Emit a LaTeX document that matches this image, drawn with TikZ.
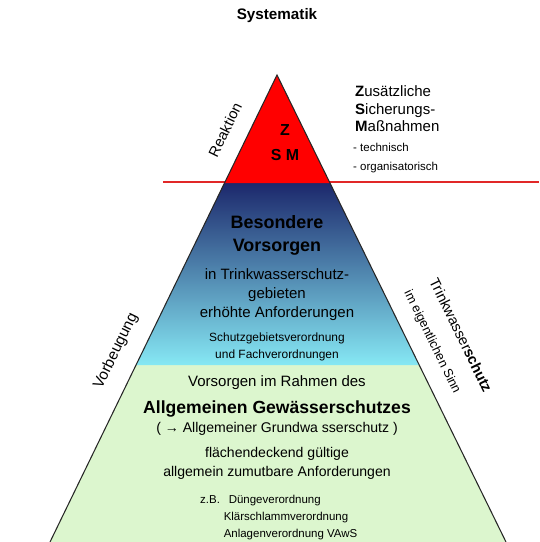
\documentclass[tikz,border=0pt]{standalone}
\usepackage{fontspec}
\setmainfont{Liberation Sans}
\usetikzlibrary{calc}

\definecolor{zsmred}{RGB}{255,0,0}
\definecolor{navytop}{RGB}{28,40,108}
\definecolor{cyanbot}{RGB}{134,232,244}
\definecolor{lightgreen}{RGB}{220,246,206}
\definecolor{linered}{RGB}{225,40,40}
\newcommand\fsz[2]{\fontsize{#1}{#2}\selectfont}

\begin{document}
\begin{tikzpicture}[x=0.03cm,y=-0.03cm,
  lbl/.style={inner sep=0pt,align=center},
  edge/.style={line width=0.9pt,black!85}]
\useasboundingbox (0,0) rectangle (539,542);
% pyramid corners
\coordinate (apex) at (277,75);
\coordinate (bl) at (50,542);
\coordinate (br) at (506,542);
\coordinate (rl) at ($(apex)!0.2313!(bl)$);
\coordinate (rr) at ($(apex)!0.2313!(br)$);
\coordinate (vl) at ($(apex)!0.621!(bl)$);
\coordinate (vr) at ($(apex)!0.621!(br)$);
\coordinate (lineL) at (163,182);
\coordinate (lineR) at (539,182);
\draw[linered,line width=1pt] (lineL) -- (lineR);
% bands
\fill[lightgreen] (vl) -- (bl) -- (br) -- (vr) -- cycle;
\shade[top color=navytop,bottom color=cyanbot] (rl) -- (vl) -- (vr) -- (rr) -- cycle;
\fill[zsmred] (apex) -- (rl) -- (rr) -- cycle;
\draw[edge] (bl) -- (apex) -- (br);

\node[lbl,font=\fsz{13}{15}\bfseries] (title) at (277,16) {Systematik};
\node[lbl,font=\fsz{13.6}{21.5}\bfseries] (zsm) at (285,143) {Z\\S M};
\node[lbl,align=left,anchor=west,font=\fsz{12.8}{14.9}] (zusatz) at (355,109)
  {\textbf{Z}usätzliche\\\textbf{S}icherungs-\\\textbf{M}aßnahmen};
\node[lbl,align=left,anchor=west,font=\fsz{9.8}{16}] (massn) at (353,158)
  {- technisch\\- organisatorisch};
\node[lbl,rotate=64,font=\fsz{12.5}{14}] (reaktion) at (225,130) {Reaktion};

\node[lbl,font=\fsz{15.3}{19.6}\bfseries] (besondere) at (277,235) {Besondere\\Vorsorgen};
\node[lbl,font=\fsz{12.8}{16.2}] (gebiete) at (277,295)
  {in Trinkwasserschutz-\\gebieten\\erhöhte Anforderungen};
\node[lbl,font=\fsz{10.2}{14.5}] (verordn) at (277,347)
  {Schutzgebietsverordnung\\und Fachverordnungen};

\node[lbl,font=\fsz{12.8}{15}] (rahmen) at (277,383) {Vorsorgen im Rahmen des};
\node[lbl,font=\fsz{15}{18}\bfseries] (allgemein) at (277,409) {Allgemeinen Gewässerschutzes};
\node[lbl,font=\fsz{12}{14}] (grundw) at (277,429) {( → Allgemeiner Grundwa sserschutz )};
\node[lbl,font=\fsz{12}{16.2}] (zumutbar) at (277,463)
  {flächendeckend gültige\\allgemein zumutbare Anforderungen};
\node[lbl,anchor=west,font=\fsz{9.8}{14.5}] (beispiele) at (200,517)
  {\begin{tabular}{@{}l@{\hspace{7.5pt}}l@{}}
   z.B. & Düngeverordnung\\
        & \hspace{-4.3pt}Klärschlammverordnung\\
        & \hspace{-4.3pt}Anlagenverordnung VAwS
   \end{tabular}};

\node[lbl,rotate=64,font=\fsz{13}{15}] (vorbeugung) at (116,351) {Vorbeugung};
\node[lbl,rotate=-64,font=\fsz{12.5}{14}] (twschutz) at (461,335) {Trinkwasser\textbf{schutz}};
\node[lbl,rotate=-64,font=\fsz{10.8}{12}] (eigentl) at (432,342) {im eigentlichen Sinn};
\end{tikzpicture}
\end{document}
